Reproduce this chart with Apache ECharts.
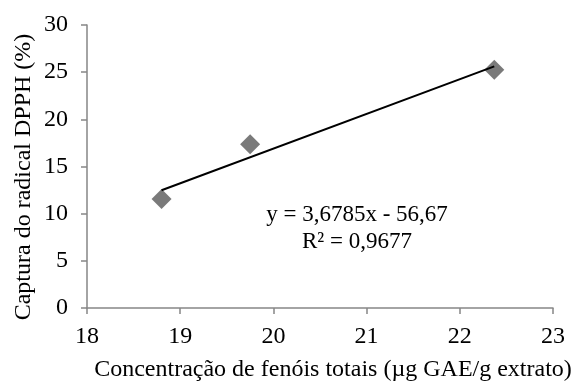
<!DOCTYPE html>
<html>
<head>
<meta charset="utf-8">
<script src="https://cdn.jsdelivr.net/npm/echarts@6/dist/echarts.min.js"></script>
<style>
  html, body { margin: 0; padding: 0; background: #fff; }
  #chart { width: 574px; height: 385px; }
</style>
</head>
<body>
<div id="chart"></div>
<script>
// Total phenolics (x) vs DPPH radical scavenging (y)
const phenolics = [18.80, 19.75, 22.37];
const scavenging = [11.55, 17.35, 25.25];

// Linear trendline coefficients and fit
const slope = 3.6785;
const intercept = -56.67;
const r2Label = 'R² = 0,9677';
const eqLabel = 'y = 3,6785x - 56,67';

const xTitle = 'Concentração de fenóis totais (µg GAE/g extrato)';
const yTitle = 'Captura do radical DPPH (%)';

const xTicks = { min: 18, max: 23, interval: 1 };
const yTicks = { min: 0, max: 30, interval: 5 };

const xMinFit = Math.min(...phenolics);
const xMaxFit = Math.max(...phenolics);
const trend = [
  [xMinFit, slope * xMinFit + intercept],
  [xMaxFit, slope * xMaxFit + intercept]
];

const font = '"Liberation Serif", "Times New Roman", serif';
const axisGray = '#868686';

const chart = echarts.init(document.getElementById('chart'), null, { renderer: 'canvas' });
chart.setOption({
  backgroundColor: '#fff',
  animation: false,
  grid: { left: 87, right: 21, top: 25, bottom: 77 },
  xAxis: {
    type: 'value',
    min: xTicks.min, max: xTicks.max, interval: xTicks.interval,
    axisLine: { show: true, lineStyle: { color: axisGray, width: 1.5 } },
    axisTick: { show: true, inside: false, length: 6, lineStyle: { color: axisGray, width: 1.5 } },
    axisLabel: { fontFamily: font, fontSize: 24, color: '#000', margin: 17 },
    splitLine: { show: false }
  },
  yAxis: {
    type: 'value',
    min: yTicks.min, max: yTicks.max, interval: yTicks.interval,
    axisLine: { show: true, lineStyle: { color: axisGray, width: 1.5 } },
    axisTick: { show: true, inside: false, length: 6, lineStyle: { color: axisGray, width: 1.5 } },
    axisLabel: { fontFamily: font, fontSize: 24, color: '#000', margin: 19 },
    splitLine: { show: false }
  },
  series: [
    {
      type: 'line',
      data: trend,
      symbol: 'none',
      lineStyle: { color: '#000', width: 2 },
      z: 3
    },
    {
      type: 'scatter',
      data: phenolics.map((x, i) => [x, scavenging[i]]),
      symbol: 'diamond',
      symbolSize: [20, 20],
      itemStyle: { color: '#595959' },
      z: 2
    }
  ],
  graphic: [
    {
      type: 'text', x: 333, y: 370,
      style: { text: xTitle, fontFamily: font, fontSize: 24, fill: '#000', align: 'center', verticalAlign: 'middle' }
    },
    {
      type: 'text', x: 24, y: 177, rotation: Math.PI / 2,
      style: { text: yTitle, fontFamily: font, fontSize: 24, fill: '#000', align: 'center', verticalAlign: 'middle' }
    },
    {
      type: 'text', x: 357, y: 215,
      style: { text: eqLabel, fontFamily: font, fontSize: 23, fill: '#000', align: 'center', verticalAlign: 'middle' }
    },
    {
      type: 'text', x: 357, y: 242,
      style: { text: r2Label, fontFamily: font, fontSize: 23, fill: '#000', align: 'center', verticalAlign: 'middle' }
    }
  ]
});
</script>
</body>
</html>
